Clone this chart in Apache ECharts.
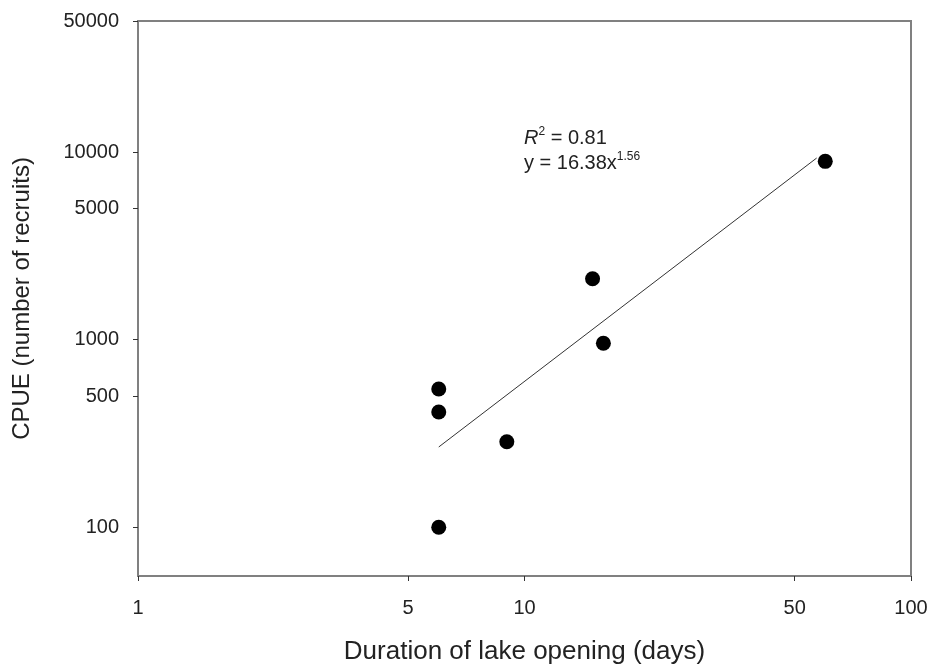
<!DOCTYPE html>
<html>
<head>
<meta charset="utf-8">
<script src="https://cdn.jsdelivr.net/npm/echarts@6/dist/echarts.min.js"></script>
<style>
  html, body { margin: 0; padding: 0; background: #fff; }
  #chart { width: 931px; height: 670px; }
</style>
</head>
<body>
<div id="chart"></div>
<script>
// observed points (days open, CPUE)
var duration = [6, 6, 6, 9, 15, 16, 60]
var cpue = [100, 412, 546, 286, 2115, 957, 8930]
// fitted power curve y = 16.38x^1.56, end points as drawn
var trendX = [6, 57]
var trendY = [268, 9300]
var xTicks = [1, 5, 10, 50, 100]
var yTicks = [100, 500, 1000, 5000, 10000, 50000]

var pts = duration.map(function(d, i) { return [d, cpue[i]] })
var trend = trendX.map(function(d, i) { return [d, trendY[i]] })

var font = 'Liberation Sans, Arial, sans-serif'
var axisColor = '#808080'

var chart = echarts.init(document.getElementById('chart'))
chart.setOption({
  backgroundColor: '#fff',
  animation: false,
  textStyle: { fontFamily: font, color: '#222' },
  grid: { left: 138, right: 20, top: 21, bottom: 91, show: true, borderColor: axisColor, borderWidth: 2, backgroundColor: 'transparent' },
  xAxis: {
    type: 'log',
    logBase: 10,
    min: 1,
    max: 100,
    name: 'Duration of lake opening (days)',
    nameLocation: 'middle',
    nameGap: 63,
    nameTextStyle: { fontSize: 26, color: '#222', fontFamily: font },
    axisLine: { show: true, lineStyle: { color: axisColor, width: 2 } },
    axisTick: { show: true, customValues: xTicks, length: 5, lineStyle: { color: '#333', width: 1 } },
    axisLabel: { customValues: xTicks, fontSize: 20, color: '#222', margin: 22, fontFamily: font, formatter: function(v) { return String(v) } },
    splitLine: { show: false },
    minorTick: { show: false }
  },
  yAxis: {
    type: 'log',
    logBase: 10,
    min: 55,
    max: 50000,
    name: 'CPUE (number of recruits)',
    nameLocation: 'middle',
    nameRotate: 90,
    nameGap: 104,
    nameTextStyle: { fontSize: 24, color: '#222', fontFamily: font },
    axisLine: { show: true, lineStyle: { color: axisColor, width: 2 } },
    axisTick: { show: true, customValues: yTicks, length: 5, lineStyle: { color: '#333', width: 1 } },
    axisLabel: { customValues: yTicks, fontSize: 20, color: '#222', margin: 19, fontFamily: font, formatter: function(v) { return String(v) } },
    splitLine: { show: false },
    minorTick: { show: false }
  },
  graphic: [{
    type: 'text',
    left: 524,
    top: 126,
    style: {
      text: '{i|R}{s|2} = 0.81\ny = 16.38x{s|1.56}',
      fontFamily: font,
      fontSize: 20,
      fill: '#222',
      lineHeight: 25,
      rich: {
        i: { fontStyle: 'italic', fontSize: 20, fontFamily: font, fill: '#222' },
        s: { fontSize: 12, verticalAlign: 'top', padding: [0, 0, 10, 0], fontFamily: font, fill: '#222' }
      }
    }
  }],
  series: [
    {
      type: 'line',
      data: trend,
      symbol: 'none',
      lineStyle: { color: '#333', width: 1 },
      z: 1
    },
    {
      type: 'scatter',
      data: pts,
      symbol: 'circle',
      symbolSize: 15,
      itemStyle: { color: '#000', opacity: 1 },
      z: 2
    }
  ]
})
</script>
</body>
</html>
